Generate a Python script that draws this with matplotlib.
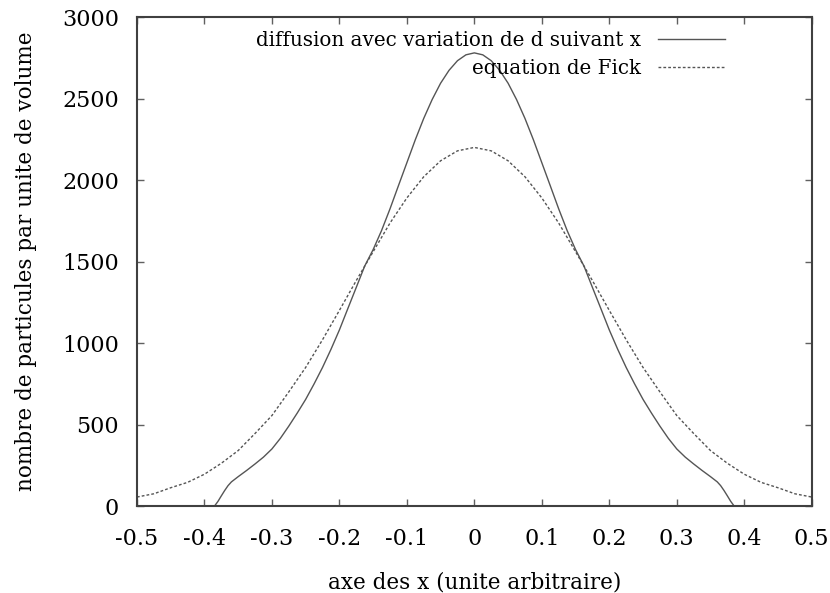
import matplotlib
matplotlib.use('Agg')
import matplotlib.pyplot as plt

# valeurs (profils symetriques autour de x = 0)
x_diff = [-0.5, -0.39, -0.385, -0.38, -0.375, -0.37, -0.365, -0.36, -0.35, -0.3375,
          -0.325, -0.3125, -0.3, -0.2875, -0.275, -0.2625, -0.25, -0.2375, -0.225, -0.2125,
          -0.2, -0.1875, -0.175, -0.1625, -0.15, -0.1375, -0.125, -0.1125, -0.1, -0.0875,
          -0.075, -0.0625, -0.05, -0.0375, -0.025, -0.0125, 0.0,
          0.0125, 0.025, 0.0375, 0.05, 0.0625, 0.075, 0.0875, 0.1, 0.1125,
          0.125, 0.1375, 0.15, 0.1625, 0.175, 0.1875, 0.2, 0.2125, 0.225,
          0.2375, 0.25, 0.2625, 0.275, 0.2875, 0.3, 0.3125, 0.325, 0.3375,
          0.35, 0.36, 0.365, 0.37, 0.375, 0.38, 0.385, 0.39, 0.5]
y_diff = [0, 0, 0, 28, 62, 95, 125, 148, 180, 218,
          258, 300, 350, 415, 490, 570, 654, 749, 850, 961,
          1080, 1211, 1341, 1472, 1573, 1690, 1823, 1965, 2106, 2247,
          2378, 2494, 2594, 2673, 2732, 2768, 2780,
          2768, 2732, 2673, 2594, 2494, 2378, 2247, 2106, 1965,
          1823, 1690, 1573, 1472, 1341, 1211, 1080, 961, 850,
          749, 654, 570, 490, 415, 350, 300, 258, 218,
          180, 148, 125, 95, 62, 28, 0, 0, 0]

x_fick = [-0.5, -0.475, -0.45, -0.425, -0.4, -0.375, -0.35, -0.325, -0.3, -0.275,
          -0.25, -0.225, -0.2, -0.175, -0.15, -0.125, -0.1, -0.075, -0.05, -0.025,
          0.0, 0.025, 0.05, 0.075, 0.1, 0.125, 0.15, 0.175, 0.2, 0.225,
          0.25, 0.275, 0.3, 0.325, 0.35, 0.375, 0.4, 0.425, 0.45, 0.475, 0.5]
y_fick = [55, 75, 112, 145, 195, 262, 340, 445, 555, 700,
          850, 1020, 1200, 1383, 1560, 1736, 1890, 2020, 2118, 2179,
          2200, 2179, 2118, 2020, 1890, 1736, 1560, 1383, 1200, 1020,
          850, 700, 555, 445, 340, 262, 195, 145, 112, 75, 55]

x_ticks = [-0.5, -0.4, -0.3, -0.2, -0.1, 0, 0.1, 0.2, 0.3, 0.4, 0.5]
x_tick_labels = ['-0.5', '-0.4', '-0.3', '-0.2', '-0.1', '0', '0.1', '0.2', '0.3', '0.4', '0.5']
y_ticks = [0, 500, 1000, 1500, 2000, 2500, 3000]

plt.rcParams['font.family'] = ['DejaVu Serif']

fig = plt.figure(figsize=(8.3, 5.93), dpi=100)
ax = fig.add_axes([0.165, 0.1467, 0.813, 0.8246])

ax.plot(x_diff, y_diff, color='#555555', lw=1.0,
        label='diffusion avec variation de d suivant x')
ax.plot(x_fick, y_fick, color='#555555', lw=1.0, linestyle=(0, (2, 1.5)),
        label='equation de Fick')

ax.set_xlim(-0.5, 0.5)
ax.set_ylim(0, 3000)
ax.set_xticks(x_ticks)
ax.set_xticklabels(x_tick_labels)
ax.set_yticks(y_ticks)
ax.tick_params(direction='in', length=5, width=1, color='#606060',
               top=True, right=True, labelsize=16)
ax.tick_params(axis='x', pad=16)
ax.tick_params(axis='y', pad=13)
for s in ax.spines.values():
    s.set_color('#404040')
    s.set_linewidth(1.5)

ax.set_xlabel('axe des x (unite arbitraire)', fontsize=15.5, labelpad=15)
ax.set_ylabel('nombre de particules par unite de volume', fontsize=15.5, labelpad=18)

leg = ax.legend(loc='upper right', frameon=False, markerfirst=False, fontsize=14.3,
                handlelength=3.35, handletextpad=0.88, borderaxespad=0, borderpad=0,
                labelspacing=0.45, bbox_to_anchor=(0.871, 0.9715))
for t in leg.get_texts():
    t.set_ha('right')

fig.savefig('out.png', dpi=100)
